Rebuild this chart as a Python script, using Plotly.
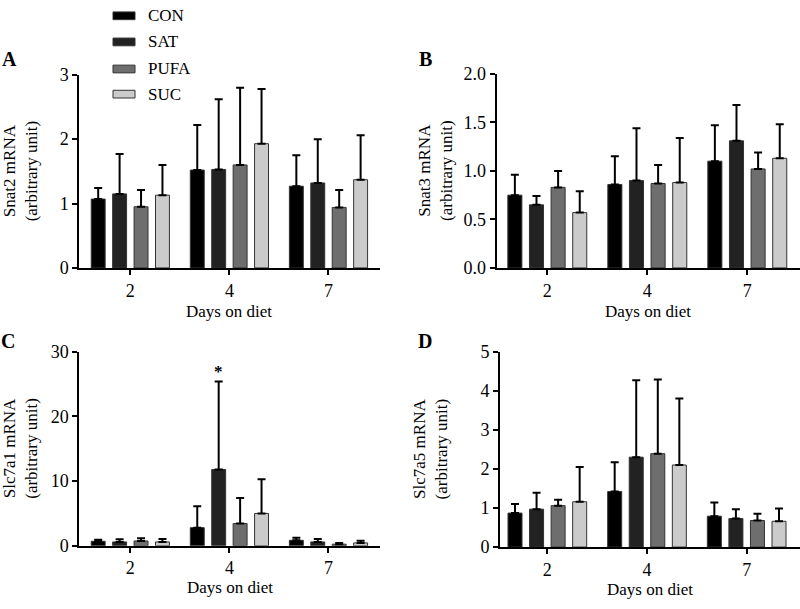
import plotly.graph_objects as go

days = ["2", "4", "7"]
groups = ["CON", "SAT", "PUFA", "SUC"]
colors = ["#000000", "#222222", "#6e6e6e", "#cbcbcb"]

# Panel A: Snat2
a_mean = {"CON": [1.07, 1.52, 1.27], "SAT": [1.15, 1.53, 1.32],
          "PUFA": [0.95, 1.60, 0.94], "SUC": [1.13, 1.93, 1.37]}
a_err = {"CON": [0.17, 0.70, 0.48], "SAT": [0.62, 1.09, 0.68],
         "PUFA": [0.26, 1.20, 0.27], "SUC": [0.47, 0.85, 0.69]}
# Panel B: Snat3
b_mean = {"CON": [0.75, 0.86, 1.10], "SAT": [0.65, 0.90, 1.31],
          "PUFA": [0.83, 0.87, 1.02], "SUC": [0.57, 0.88, 1.13]}
b_err = {"CON": [0.21, 0.29, 0.37], "SAT": [0.09, 0.54, 0.37],
         "PUFA": [0.17, 0.19, 0.17], "SUC": [0.22, 0.46, 0.35]}
# Panel C: Slc7a1
c_mean = {"CON": [0.70, 2.80, 0.85], "SAT": [0.60, 11.8, 0.60],
          "PUFA": [0.75, 3.45, 0.25], "SUC": [0.60, 5.00, 0.45]}
c_err = {"CON": [0.25, 3.30, 0.40], "SAT": [0.40, 13.6, 0.45],
         "PUFA": [0.40, 3.95, 0.20], "SUC": [0.45, 5.30, 0.35]}
# Panel D: Slc7a5
d_mean = {"CON": [0.87, 1.42, 0.79], "SAT": [0.97, 2.30, 0.73],
          "PUFA": [1.06, 2.39, 0.68], "SUC": [1.16, 2.10, 0.66]}
d_err = {"CON": [0.23, 0.75, 0.35], "SAT": [0.42, 1.97, 0.24],
         "PUFA": [0.15, 1.90, 0.17], "SUC": [0.89, 1.70, 0.33]}

y_titles = ["Snat2 mRNA<br>(arbitrary unit)", "Snat3 mRNA<br>(arbitrary unit)",
            "Slc7a1 mRNA<br>(arbitrary unit)", "Slc7a5 mRNA<br>(arbitrary unit)"]
x_title = "Days on diet"
panel_letters = ["A", "B", "C", "D"]
y_ranges = [[0, 3], [0, 2], [0, 30], [0, 5]]
y_dticks = [1, 0.5, 10, 1]
y_formats = ["d", ".1f", "d", "d"]

W, H = 800, 609
FONT = "Liberation Serif, Times New Roman, serif"
TXT = 17
TICK = 18
BARGAP = 0.135

# pixel boxes (left, right, top, bottom) for each panel
boxes = [(79.3, 379.5, 67.0, 266.7), (496.7, 800.0, 66.0, 266.7),
         (79.3, 380.0, 353.3, 554.0), (500.0, 800.0, 353.3, 555.3)]
x_ranges = [[-0.515, 2.515], [-0.506, 2.527], [-0.515, 2.52], [-0.475, 2.535]]

fig = go.Figure()
panels = [(a_mean, a_err), (b_mean, b_err), (c_mean, c_err), (d_mean, d_err)]

for p, (means, errs) in enumerate(panels):
    sfx = "" if p == 0 else str(p + 1)
    for g, col in zip(groups, colors):
        fig.add_trace(go.Bar(
            x=days, y=means[g], name=g, marker=dict(color=col, line=dict(color="#333333", width=1)),
            error_y=dict(type="data", array=errs[g], arrayminus=[0] * len(days), symmetric=False,
                         color="black", thickness=2, width=4),
            xaxis="x" + sfx, yaxis="y" + sfx, showlegend=False, offsetgroup=g,
        ))

annotations = []
shapes = []
layout_axes = {}
for p in range(4):
    l, r, t, b = boxes[p]
    sfx = "" if p == 0 else str(p + 1)
    layout_axes["xaxis" + sfx] = dict(
        domain=[l / W, r / W], range=x_ranges[p], anchor="y" + sfx, type="category",
        showline=True, linecolor="black", linewidth=2, ticks="outside", ticklen=5,
        tickwidth=2, tickcolor="black", showgrid=False, zeroline=False,
        tickfont=dict(family=FONT, size=TICK, color="black"))
    layout_axes["yaxis" + sfx] = dict(
        domain=[(H - b) / H, (H - t) / H], range=y_ranges[p], anchor="x" + sfx,
        dtick=y_dticks[p], tickformat=y_formats[p],
        showline=True, linecolor="black", linewidth=2, ticks="outside", ticklen=5,
        tickwidth=2, tickcolor="black", showgrid=False, zeroline=False,
        tickfont=dict(family=FONT, size=TICK, color="black"))
    # y title
    ytx = [20, 436, 21, 430][p]
    annotations.append(dict(text=y_titles[p], xref="paper", yref="paper", x=ytx / W,
                            y=(H - (t + b) / 2) / H, xanchor="center", yanchor="middle",
                            textangle=-90, showarrow=False,
                            font=dict(family=FONT, size=TXT, color="black")))
    # x title
    xty = [311.7, 311.7, 596.7, 599.0][p]
    annotations.append(dict(text=x_title, xref="paper", yref="paper", x=(l + r) / 2 / W,
                            y=(H - xty) / H, xanchor="center", yanchor="middle",
                            showarrow=False, font=dict(family=FONT, size=TXT, color="black")))
    # panel letter
    lx, ly = [(9, 51), (425, 51), (8, 342), (425, 342)][p]
    annotations.append(dict(text="<b>" + panel_letters[p] + "</b>", xref="paper", yref="paper",
                            x=lx / W, y=(H - ly) / H, xanchor="center", yanchor="middle",
                            showarrow=False, font=dict(family=FONT, size=20, color="black")))

# significance star on SAT, day 4, panel C
slot = (1 - BARGAP) / len(groups)
sat_i = groups.index("SAT")
day_i = days.index("4")
annotations.append(dict(text="<b>*</b>", xref="x3", yref="y3",
                        x=day_i + (sat_i - 1.5) * slot,
                        y=c_mean["SAT"][day_i] + c_err["SAT"][day_i],
                        xanchor="center", yanchor="bottom", yshift=-2, showarrow=False,
                        font=dict(family=FONT, size=TXT, color="black")))

# manual legend
leg_rows = [6, 33, 61, 87]
for g, col, yc in zip(groups, colors, leg_rows):
    shapes.append(dict(type="rect", xref="paper", yref="paper",
                       x0=113 / W, x1=135 / W, y0=(H - yc - 4) / H, y1=(H - yc + 4) / H,
                       fillcolor=col, line=dict(color="#333333", width=1)))
    annotations.append(dict(text=g, xref="paper", yref="paper", x=146 / W, y=(H - yc) / H,
                            xanchor="left", yanchor="middle", showarrow=False,
                            font=dict(family=FONT, size=TXT, color="black")))

fig.update_layout(
    width=W, height=H, margin=dict(l=0, r=0, t=0, b=0),
    paper_bgcolor="white", plot_bgcolor="white",
    barmode="group", bargap=BARGAP, bargroupgap=0.35,
    annotations=annotations, shapes=shapes,
    font=dict(family=FONT, size=TXT, color="black"),
    **layout_axes,
)

fig.write_html("out.html", config={"displayModeBar": False},
               post_script="document.body.style.margin='0';")
